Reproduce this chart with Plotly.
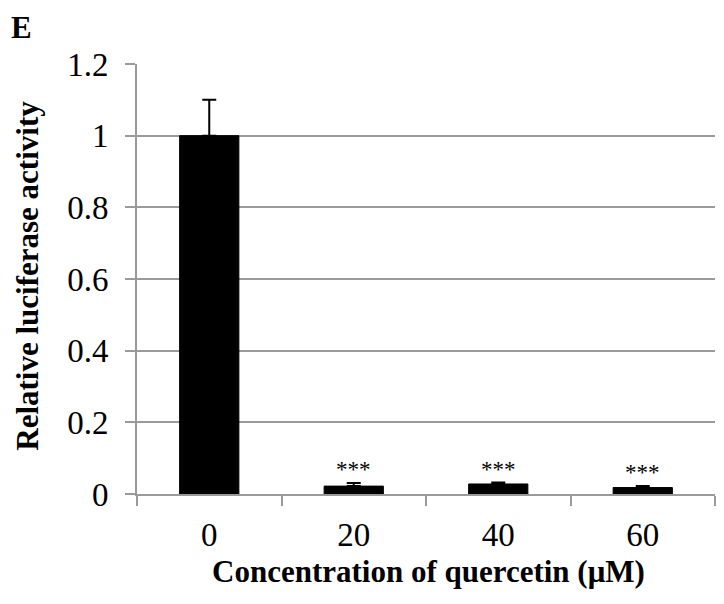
import plotly.graph_objects as go

categories = ["0", "20", "40", "60"]
values = [1.0, 0.022, 0.028, 0.018]
errors = [0.1, 0.009, 0.004, 0.004]
signif = ["", "***", "***", "***"]
yticks = [0, 0.2, 0.4, 0.6, 0.8, 1, 1.2]
ytick_text = ["0", "0.2", "0.4", "0.6", "0.8", "1", "1.2"]

font_family = "Liberation Serif, Times New Roman, serif"

fig = go.Figure()
fig.add_trace(go.Bar(
    x=categories, y=values,
    marker=dict(color="black", line=dict(color="black", width=1)),
    error_y=dict(type="data", array=errors, arrayminus=[0]*len(errors),
                 color="black", thickness=2, width=7),
    width=0.41,
))

for i, (v, e, s) in enumerate(zip(values, errors, signif)):
    if s:
        fig.add_annotation(x=i, y=v + e, text=s, showarrow=False,
                           yanchor="bottom", yshift=-1,
                           font=dict(family=font_family, size=23, color="black"))

fig.add_annotation(xref="paper", yref="paper", x=-0.2, y=1.086,
                   text="<b>E</b>", showarrow=False, xanchor="center", yanchor="middle",
                   font=dict(family=font_family, size=31, color="black"))
fig.add_annotation(xref="paper", yref="paper", x=-0.189, y=0.507,
                   text="<b>Relative luciferase activity</b>", showarrow=False,
                   textangle=-90, xanchor="center", yanchor="middle",
                   font=dict(family=font_family, size=31, color="black"))
fig.add_annotation(xref="paper", yref="paper", x=0.505, y=-0.181,
                   text="<b>Concentration of quercetin (μM)</b>", showarrow=False,
                   xanchor="center", yanchor="middle",
                   font=dict(family=font_family, size=31, color="black"))

fig.update_layout(
    width=716, height=596,
    margin=dict(l=129, r=9, t=56, b=110),
    plot_bgcolor="white", paper_bgcolor="white",
    showlegend=False,
    font=dict(family=font_family, size=33, color="black"),
    xaxis=dict(type="category", range=[-0.5, 3.5], tickson="boundaries", ticks="outside",
               ticklen=10, tickwidth=2, tickcolor="#9a9a9a",
               showline=True, linecolor="#9a9a9a", linewidth=2,
               showgrid=False, tickfont=dict(size=33), ticklabelstandoff=10),
    yaxis=dict(range=[0, 1.2], tickvals=yticks, ticktext=ytick_text,
               ticks="outside", ticklen=10, tickwidth=2, tickcolor="#9a9a9a",
               showline=True, linecolor="#9a9a9a", linewidth=2,
               showgrid=True, gridcolor="#9a9a9a", gridwidth=2,
               zeroline=False, tickfont=dict(size=33), ticklabelstandoff=10),
)

fig.write_html("out.html")
